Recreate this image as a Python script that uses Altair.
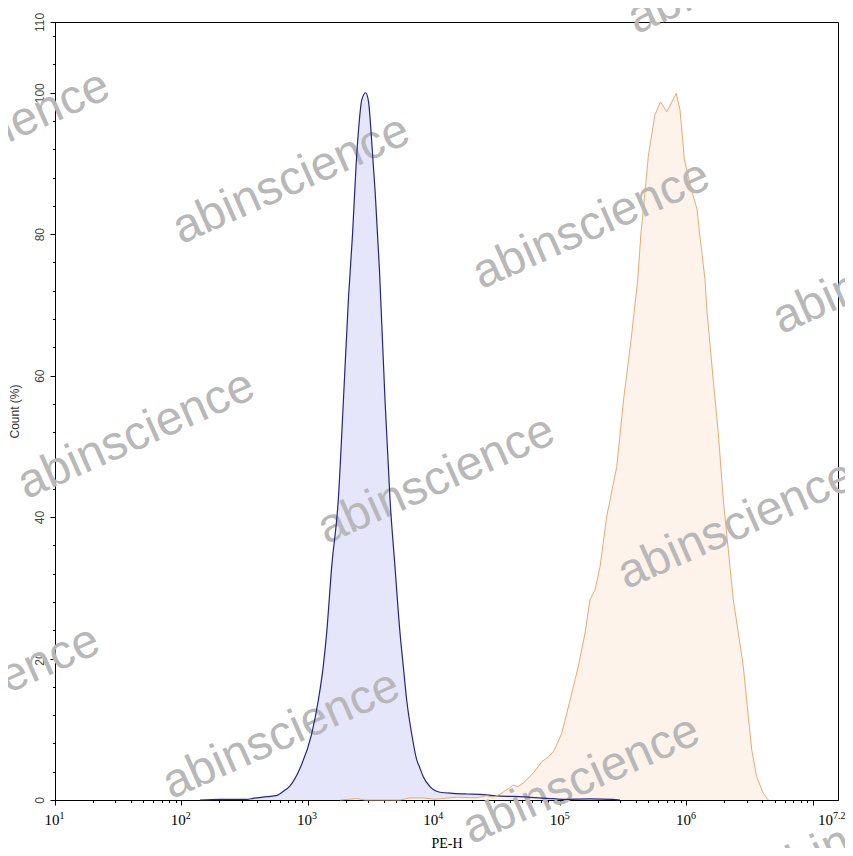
import altair as alt
import numpy as np
import pandas as pd

# ---- data (log10 of PE-H, count %) ----
blue_log_pe = [2.148, 2.307, 2.52, 2.568, 2.679, 2.758, 2.805, 2.861, 2.94, 3.033, 3.085, 3.124,
               3.151, 3.191, 3.243, 3.284, 3.324, 3.356, 3.385, 3.407, 3.429, 3.46, 3.482, 3.512,
               3.535, 3.569, 3.613, 3.653, 3.692, 3.732, 3.758, 3.785, 3.824, 3.864, 3.89, 3.916,
               3.969, 4.049, 4.151, 4.262, 4.365, 4.5, 4.627, 4.761, 4.896, 5.023, 5.236, 5.418, 5.474]
blue_count = [0, 0.1, 0.1, 0.24, 0.47, 0.66, 1.2, 2.0, 4.5, 9.4, 14.1, 18.9,
              23.6, 33, 42.4, 56.6, 71, 80, 90, 95.5, 99, 100, 98.8, 92,
              86, 75, 56.6, 42.4, 33, 23.6, 18.9, 14.1, 9.4, 5.7, 4.5, 3.3,
              1.9, 1.1, 0.94, 0.85, 0.8, 0.57, 0.5, 0.38, 0.24, 0.1, 0.15, 0.1, 0]

orange_log_pe = [3.257, 3.389, 3.455, 3.732, 3.811, 3.914, 4.009, 4.181, 4.326, 4.421, 4.468, 4.524,
                 4.589, 4.629, 4.666, 4.708, 4.787, 4.854, 4.906, 4.946, 5.012, 5.078, 5.144, 5.197,
                 5.236, 5.276, 5.316, 5.369, 5.448, 5.502, 5.561, 5.614, 5.640, 5.656, 5.698, 5.749,
                 5.795, 5.844, 5.919, 5.949, 5.984, 6.038, 6.084, 6.107, 6.123, 6.147, 6.163, 6.214,
                 6.252, 6.292, 6.331, 6.371, 6.411, 6.450, 6.490, 6.517, 6.556, 6.609, 6.648]
orange_count = [0, 0.2, 0, 0, 0.3, 0.3, 0.1, 0.4, 0.3, 0.6, 0.4, 0.8,
                1.6, 2.1, 1.9, 2.4, 3.8, 5.4, 6.1, 6.8, 9.4, 14.1, 18.9, 23.6,
                28.3, 29.7, 33, 40.1, 47.1, 56.6, 65, 73.5, 80.2, 83, 91, 96.8,
                98.7, 97.3, 99.9, 97.6, 90.5, 86.4, 83.5, 79.6, 77.3, 73.5, 69, 59,
                51.9, 42.4, 35.4, 28.3, 23.6, 18.9, 11.8, 7.1, 3.3, 0.94, 0]

x_label_exps = ["1", "2", "3", "4", "5", "6"]
x_label_last = "7.2"

watermark_text = "abinscience"
wm_page_x = [-3, 297, 597, 897, 142, 442, 742, -13, 287, 587, 887, 752]
wm_page_y = [148, 193, 238, 283, 448, 493, 538, 703, 748, 793, 838, -17]

# ---- tables ----
blue = pd.DataFrame({"pe": np.power(10.0, blue_log_pe), "count": blue_count})
orange = pd.DataFrame({"pe": np.power(10.0, orange_log_pe), "count": orange_count})
xlab = pd.DataFrame({"pe": [10.0 ** float(e) for e in x_label_exps], "exp": x_label_exps, "base": "10"})
xlab_last = pd.DataFrame({"pe": [10.0 ** float(x_label_last)], "exp": [x_label_last], "base": ["10"]})
wm = pd.DataFrame({"wx": [v - 55 for v in wm_page_x], "wy": [v - 22 for v in wm_page_y],
                   "t": watermark_text})

XMAX = 10.0 ** 7.2
x_scale = alt.Scale(type="log", domain=[10, XMAX], nice=False)
y_scale = alt.Scale(domain=[0, 110], nice=False, zero=True)

x_ticks = [d * 10 ** e for e in range(1, 8) for d in range(1, 10) if d * 10 ** e <= XMAX]
y_ticks = list(range(0, 110, 4)) + [110]

x_axis = alt.Axis(
    values=x_ticks, labels=False, grid=False,
    tickSize={"condition": {"test": "abs(log(datum.value)/LN10 - round(log(datum.value)/LN10)) < 0.001",
                            "value": 5}, "value": 2.5},
    tickColor="black", domainColor="black", tickWidth=1, domainWidth=1,
    title="PE-H", titleFont="Liberation Serif", titleFontSize=14, titleFontWeight="normal",
    titleColor="black", titleY=47, titleBaseline="alphabetic",
)
y_axis = alt.Axis(
    values=y_ticks, grid=False,
    labelExpr="(datum.value % 20 == 0 || datum.value == 110) ? datum.label : ''",
    tickSize={"condition": {"test": "datum.value % 20 == 0 || datum.value == 110", "value": 5},
              "value": 2.5},
    tickColor="black", domainColor="black", tickWidth=1, domainWidth=1,
    labelAngle=270, labelAlign="center", labelBaseline="bottom", labelPadding=4,
    labelFont="Liberation Sans", labelFontSize=12, labelColor="#444444", labelOverlap=False,
    title="Count (%)", titleFont="Liberation Sans", titleFontSize=12, titleFontWeight="normal",
    titleColor="#333333", titleAngle=270, titleX=-41, titleY=389, titleAlign="center",
    titleBaseline="middle",
)

X = alt.X("pe:Q", scale=x_scale, axis=x_axis, title="PE-H")
Y = alt.Y("count:Q", scale=y_scale, axis=y_axis, title="Count (%)")

blue_area = alt.Chart(blue).mark_area(color="#e6e6fa", interpolate="monotone").encode(x=X, y=Y)
orange_area = alt.Chart(orange).mark_area(color="#fdf3ea").encode(x=X, y=Y)

wm_layer = alt.Chart(wm).mark_text(
    angle=336, fontSize=48, font="Liberation Sans", color="#b8b8b8",
    align="center", baseline="alphabetic",
).encode(
    x=alt.X("wx:Q", scale=None, axis=None),
    y=alt.Y("wy:Q", scale=None, axis=None),
    text="t:N",
)

blue_line = alt.Chart(blue).mark_line(color="#23238f", strokeWidth=1.2, interpolate="monotone").encode(x=X, y=Y)
orange_line = alt.Chart(orange).mark_line(color="#e8ab70", strokeWidth=1).encode(x=X, y=Y)

lab_base = alt.Chart(xlab).mark_text(
    align="right", baseline="alphabetic", font="Liberation Serif", fontSize=15, dx=4.5, color="black"
).encode(x=alt.X("pe:Q", scale=x_scale), y=alt.value(803), text="base:N")
lab_exp = alt.Chart(xlab).mark_text(
    align="left", baseline="alphabetic", font="Liberation Serif", fontSize=10, dx=4.5, color="black"
).encode(x=alt.X("pe:Q", scale=x_scale), y=alt.value(797), text="exp:N")
lab_base_last = alt.Chart(xlab_last).mark_text(
    align="right", baseline="alphabetic", font="Liberation Serif", fontSize=15, dx=-5, color="black"
).encode(x=alt.X("pe:Q", scale=x_scale), y=alt.value(803), text="base:N")
lab_exp_last = alt.Chart(xlab_last).mark_text(
    align="left", baseline="alphabetic", font="Liberation Serif", fontSize=10, dx=-5, color="black"
).encode(x=alt.X("pe:Q", scale=x_scale), y=alt.value(797), text="exp:N")

chart = alt.layer(
    blue_area, orange_area, wm_layer, blue_line, orange_line,
    lab_base, lab_exp, lab_base_last, lab_exp_last,
).properties(
    width=783, height=778,
    autosize=alt.AutoSizeParams(type="none"),
    padding={"left": 47, "top": 14, "right": 7, "bottom": 48},
    background="white",
).configure_view(stroke="black", strokeWidth=1)

chart.save("out.html", embed_options={"renderer": "svg", "actions": False})
